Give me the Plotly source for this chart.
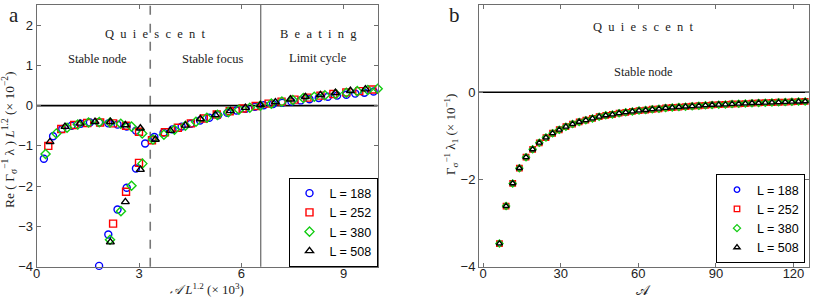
import plotly.graph_objects as go

# ---------------- Panel a data ----------------
series_names = ["L = 188", "L = 252", "L = 380", "L = 508"]

blue_x = [0.21, 0.48, 0.75, 1.02, 1.29, 1.56, 1.83, 2.10, 2.37, 2.64, 2.91,
          1.83, 2.10, 2.37, 2.64, 2.91,
          3.18, 3.45, 3.72, 3.98, 4.25, 4.52, 4.79, 5.06, 5.32, 5.59, 5.86, 6.13, 6.40,
          6.66, 6.93, 7.20, 7.47, 7.74, 8.00, 8.27, 8.54, 8.81, 9.08, 9.34, 9.61, 9.88]
blue_y = [-1.32, -0.76, -0.58, -0.50, -0.45, -0.42, -0.42, -0.44, -0.47, -0.52, -0.62,
          -3.98, -3.20, -2.58, -2.04, -1.56,
          -0.94, -0.78, -0.67, -0.59, -0.52, -0.45, -0.37, -0.30, -0.24, -0.18, -0.12, -0.08, -0.03,
          0.01, 0.04, 0.07, 0.10, 0.13, 0.16, 0.19, 0.22, 0.25, 0.27, 0.30, 0.32, 0.35]

red_x = [0.34, 0.72, 1.10, 1.48, 1.86, 2.24, 2.62, 3.00,
         2.24, 2.62, 3.00,
         3.38, 3.76, 4.14, 4.52, 4.90, 5.28, 5.66, 6.04, 6.42, 6.80, 7.18, 7.56, 7.94,
         8.32, 8.70, 9.08, 9.46, 9.84]
red_y = [-1.00, -0.58, -0.48, -0.43, -0.42, -0.44, -0.50, -0.65,
         -2.93, -2.14, -1.42,
         -0.86, -0.66, -0.55, -0.44, -0.32, -0.22, -0.14, -0.07, -0.01, 0.05, 0.10, 0.15, 0.20,
         0.25, 0.29, 0.33, 0.36, 0.40]

green_x = [0.26, 0.575, 0.89, 1.205, 1.52, 1.835, 2.15, 2.465, 2.78, 3.095,
           2.15, 2.47, 2.78, 3.10,
           3.41, 3.73, 4.04, 4.36, 4.67, 4.99, 5.30, 5.62, 5.93, 6.25, 6.56, 6.88, 7.19,
           7.51, 7.82, 8.14, 8.45, 8.77, 9.08, 9.40, 9.71, 10.0]
green_y = [-1.20, -0.69, -0.55, -0.47, -0.42, -0.41, -0.42, -0.45, -0.52, -0.69,
           -3.33, -2.62, -1.99, -1.44,
           -0.84, -0.72, -0.60, -0.50, -0.40, -0.30, -0.23, -0.16, -0.10, -0.05, 0.00, 0.05, 0.10,
           0.14, 0.19, 0.22, 0.26, 0.29, 0.32, 0.36, 0.39, 0.42]

black_x = [0.39, 0.83, 1.27, 1.71, 2.16, 2.60, 3.04,
           2.16, 2.60, 3.04,
           3.48, 3.92, 4.36, 4.80, 5.24, 5.68, 6.12, 6.56, 7.00, 7.44, 7.88, 8.32, 8.76, 9.20, 9.64]
black_y = [-0.90, -0.52, -0.44, -0.40, -0.40, -0.48, -0.56,
           -3.39, -2.39, -1.59,
           -0.84, -0.62, -0.49, -0.33, -0.23, -0.13, -0.05, 0.02, 0.09, 0.16, 0.22, 0.27, 0.32, 0.37, 0.41]

focus_boundary = 3.33
beating_boundary = 6.57

# ---------------- Panel b data ----------------
b_x = [6.3, 8.87, 11.44, 14.01, 16.58, 19.15, 21.72, 24.29, 26.86, 29.43,
       32.0, 34.57, 37.14, 39.71, 42.28, 44.85, 47.42, 49.99, 52.56, 55.13,
       57.7, 60.27, 62.84, 65.41, 67.98, 70.55, 73.12, 75.69, 78.26, 80.83,
       83.4, 85.97, 88.54, 91.11, 93.68, 96.25, 98.82, 101.39, 103.96, 106.53,
       109.1, 111.67, 114.24, 116.81, 119.38, 121.95, 124.52]
b_y = [-3.47, -2.61, -2.09, -1.74, -1.49, -1.31, -1.16, -1.04, -0.94, -0.86,
       -0.79, -0.73, -0.68, -0.64, -0.60, -0.56, -0.53, -0.51, -0.48, -0.46,
       -0.44, -0.42, -0.41, -0.39, -0.38, -0.36, -0.35, -0.34, -0.33, -0.32,
       -0.31, -0.30, -0.29, -0.285, -0.28, -0.27, -0.265, -0.26, -0.25, -0.245,
       -0.24, -0.235, -0.23, -0.225, -0.22, -0.215, -0.21]

a_xticks = [0, 3, 6, 9]
a_yticks = [-4, -3, -2, -1, 0, 1, 2]
b_xticks = [0, 30, 60, 90, 120]
b_yticks = [-4, -2, 0, 2]

colors = ["#0000ff", "#ff0000", "#11cc11", "#000000"]
symbols = ["circle-open", "square-open", "diamond-open", "triangle-up-open"]

fig = go.Figure()

a_sets = [(blue_x, blue_y), (red_x, red_y), (green_x, green_y), (black_x, black_y)]
for i, (xs, ys) in enumerate(a_sets):
    fig.add_trace(go.Scatter(
        x=xs, y=ys, mode="markers", name=series_names[i],
        marker=dict(symbol=symbols[i], color=colors[i], size=7,
                    line=dict(width=1.4, color=colors[i])),
        xaxis="x", yaxis="y", legend="legend", cliponaxis=False))

for i in range(4):
    fig.add_trace(go.Scatter(
        x=b_x, y=b_y, mode="markers", name=series_names[i],
        marker=dict(symbol=symbols[i], color=colors[i], size=5.5,
                    line=dict(width=1.3, color=colors[i])),
        xaxis="x2", yaxis="y2", legend="legend2", cliponaxis=False))

W, H = 814, 299
ydom = [1 - 266.7 / H, 1 - 5 / H]
axis_common = dict(showgrid=False, zeroline=False, showline=True, linecolor="#6e6e6e",
                   linewidth=1, mirror="ticks", ticks="inside", ticklen=4,
                   tickcolor="#6e6e6e", automargin=False,
                   tickfont=dict(family="Liberation Sans, Arial", size=13, color="#222"))

leg_font = dict(family="Liberation Sans, Arial", size=12.5, color="#000")
fig.update_layout(
    width=W, height=H, margin=dict(l=0, r=0, t=0, b=0, autoexpand=False),
    paper_bgcolor="white", plot_bgcolor="white",
    xaxis=dict(domain=[36.7 / W, 377.7 / W], range=[0, 10], tickvals=a_xticks,
               anchor="y", ticklabelstandoff=-5, **axis_common),
    yaxis=dict(domain=ydom, range=[-4, 2.5], tickvals=a_yticks,
               ticktext=["\u22124", "\u22123", "\u22122", "\u22121", "0", "1", "2"],
               anchor="x", **axis_common),
    xaxis2=dict(domain=[479 / W, 809 / W], range=[-1.6, 126], tickvals=b_xticks,
                anchor="y2", ticklabelstandoff=-5, **axis_common),
    yaxis2=dict(domain=ydom, range=[-4, 2], tickvals=b_yticks,
                ticktext=["\u22124", "\u22122", "0", "2"],
                anchor="x2", **axis_common),
    legend=dict(x=377.5 / W, y=1 - 266.5 / H, xanchor="right", yanchor="bottom",
                bordercolor="#000", borderwidth=1, bgcolor="white",
                font=leg_font, tracegroupgap=0, itemwidth=30),
    legend2=dict(x=805 / W, y=1 - 263 / H, xanchor="right", yanchor="bottom",
                 bordercolor="#000", borderwidth=1, bgcolor="white",
                 font=leg_font, tracegroupgap=0, itemwidth=30),
    showlegend=True,
)

# reference lines
fig.add_shape(type="line", xref="x", yref="y", x0=0, x1=10, y0=0, y1=0,
              line=dict(color="black", width=1.6), layer="below")
fig.add_shape(type="line", xref="x", yref="y domain", x0=focus_boundary, x1=focus_boundary,
              y0=0, y1=1, line=dict(color="#777", width=1.6, dash="dash"), layer="below")
fig.add_shape(type="line", xref="x", yref="y domain", x0=beating_boundary, x1=beating_boundary,
              y0=0, y1=1, line=dict(color="#666", width=1.2), layer="below")
fig.add_shape(type="line", xref="x2 domain", yref="y2", x0=0, x1=1, y0=0, y1=0,
              line=dict(color="black", width=1.6), layer="below")

SERIF = "Liberation Serif, serif"
NB = "\u00a0"
def spaced(word):
    return (NB * 2).join(word)

ann = []
def A(x, y, text, size=12, angle=0, family=SERIF):
    ann.append(dict(x=x / W, y=1 - y / H, xref="paper", yref="paper", text=text,
                    showarrow=False, xanchor="center", yanchor="middle", textangle=angle,
                    font=dict(family=family, size=size, color="#222")))

A(14, 15, "a", size=21)
A(454, 15, "b", size=21)
A(155, 34, spaced("Quiescent"), size=12.5)
A(318, 34, spaced("Beating"), size=12.5)
A(97, 59, "Stable node", size=12.5)
A(213, 59, "Stable focus", size=12.5)
A(318, 58, "Limit cycle", size=12.5)
A(643, 27, spaced("Quiescent"), size=12.5)
A(643, 72, "Stable node", size=12.5)

A(207, 289, "<i>\U0001D49C</i> <i>L</i><sup>1.2</sup> (\u00d7 10<sup>3</sup>)", size=13)
A(643, 290, "\U0001D49C", size=14)
A(9, 140, "Re ( \u0393<sub>\u03c3</sub><sup>\u22121</sup> \u03bb ) <i>L</i><sup>1.2</sup> (\u00d7 10<sup>\u22122</sup>)",
  size=13.5, angle=-90)
A(451, 135, "\u0393<sub>\u03c3</sub><sup>\u22121</sup> \u03bb<sub>1</sub> (\u00d7 10<sup>\u22121</sup>)",
  size=13, angle=-90)

fig.update_layout(annotations=ann)
fig.write_html("out.html", config={"displayModeBar": False},
               post_script="document.body.style.margin='0';document.body.style.padding='0';")
